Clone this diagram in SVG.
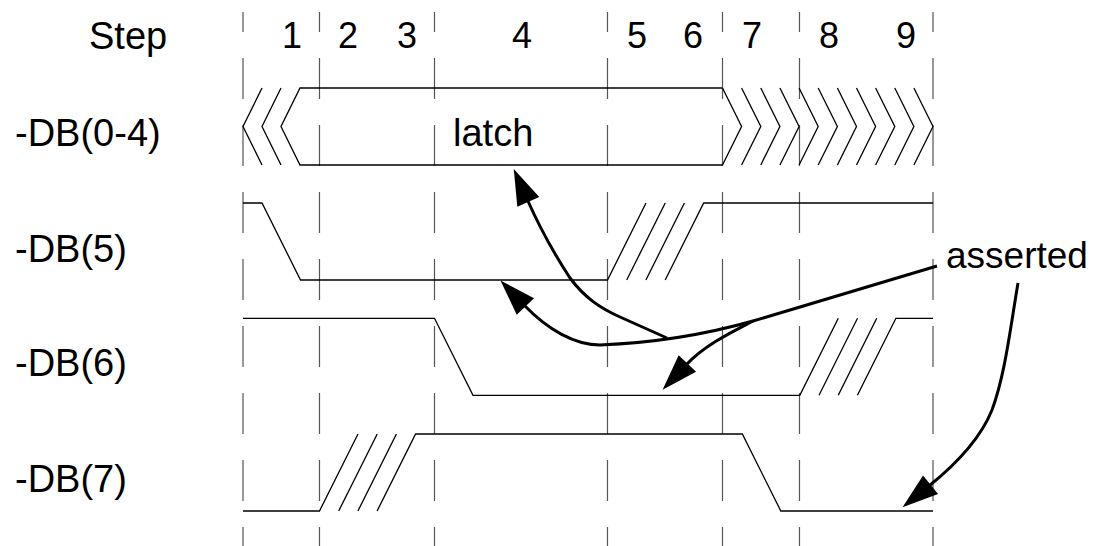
<svg xmlns="http://www.w3.org/2000/svg" width="1100" height="546" viewBox="0 0 1100 546">
<style>
  .grid { stroke: #555; stroke-width: 1.2; stroke-dasharray: 41 26; stroke-dashoffset: 21; fill: none; }
  .sig { stroke: #000; stroke-width: 1.3; fill: none; stroke-linejoin: miter; }
  .arrow { stroke: #000; stroke-width: 3; fill: none; stroke-linecap: butt; }
  text { font-family: "Liberation Sans", Arial, Helvetica, sans-serif; fill: #000; }
  .lbl { font-size: 38px; }
  .step { font-size: 36px; text-anchor: middle; }
  .note { font-size: 37px; }
</style>
<defs>
  <marker id="head" markerUnits="userSpaceOnUse" markerWidth="40" markerHeight="30" viewBox="-2 -13 40 26" refX="2" refY="0" orient="auto">
    <path d="M0,-12 L36,0 L0,12 Z" fill="#000"/>
  </marker>
</defs>
<rect width="1100" height="546" fill="#fff"/>

<g id="grid">
  <line class="grid" x1="243" y1="12" x2="243" y2="546"/>
  <line class="grid" x1="319.5" y1="12" x2="319.5" y2="546"/>
  <line class="grid" x1="434.5" y1="12" x2="434.5" y2="546"/>
  <line class="grid" x1="607.5" y1="12" x2="607.5" y2="546"/>
  <line class="grid" x1="722.5" y1="12" x2="722.5" y2="546"/>
  <line class="grid" x1="799.5" y1="12" x2="799.5" y2="546"/>
  <line class="grid" x1="933" y1="12" x2="933" y2="546"/>
</g>

<g id="step-row">
  <text class="lbl" x="89" y="49">Step</text>
  <text class="step" x="292" y="48">1</text>
  <text class="step" x="348" y="48">2</text>
  <text class="step" x="407" y="48">3</text>
  <text class="step" x="522" y="48">4</text>
  <text class="step" x="637" y="48">5</text>
  <text class="step" x="693" y="48">6</text>
  <text class="step" x="752" y="48">7</text>
  <text class="step" x="829" y="48">8</text>
  <text class="step" x="906" y="48">9</text>
</g>

<g id="signal-db04">
  <text class="lbl" x="15" y="146">-DB(0-4)</text>
  <polyline class="sig" points="262,88 243,126.5 262,165"/>
  <polyline class="sig" points="281,88 262,126.5 281,165"/>
  <polyline class="sig" points="722.5,88 300,88 281,126.5 300,165 722.5,165"/>
  <polyline class="sig" points="722.5,88 741.6,126.5 722.5,165"/>
  <polyline class="sig" points="741.6,88 760.8,126.5 741.6,165"/>
  <polyline class="sig" points="760.8,88 779.9,126.5 760.8,165"/>
  <polyline class="sig" points="779.9,88 799.1,126.5 779.9,165"/>
  <polyline class="sig" points="799.1,88 818.2,126.5 799.1,165"/>
  <polyline class="sig" points="818.2,88 837.4,126.5 818.2,165"/>
  <polyline class="sig" points="837.4,88 856.5,126.5 837.4,165"/>
  <polyline class="sig" points="856.5,88 875.6,126.5 856.5,165"/>
  <polyline class="sig" points="875.6,88 894.8,126.5 875.6,165"/>
  <polyline class="sig" points="894.8,88 913.9,126.5 894.8,165"/>
  <polyline class="sig" points="913.9,88 933,126.5 913.9,165"/>
</g>

<g id="signal-db5">
  <text class="lbl" x="15" y="262">-DB(5)</text>
  <polyline class="sig" points="243,203 262,203 300.5,280 607.5,280 646,203"/>
  <line class="sig" x1="626.7" y1="280" x2="665.2" y2="203"/>
  <line class="sig" x1="645.9" y1="280" x2="684.4" y2="203"/>
  <polyline class="sig" points="665.2,280 703.7,203 933,203"/>
</g>

<g id="signal-db6">
  <text class="lbl" x="15" y="376">-DB(6)</text>
  <polyline class="sig" points="243,318.3 434.5,318.3 473,395.3 799.8,395.3 838.3,318.3"/>
  <line class="sig" x1="819" y1="395.3" x2="857.5" y2="318.3"/>
  <line class="sig" x1="838.2" y1="395.3" x2="876.7" y2="318.3"/>
  <polyline class="sig" points="857.4,395.3 895.9,318.3 933,318.3"/>
</g>

<g id="signal-db7">
  <text class="lbl" x="15" y="492">-DB(7)</text>
  <polyline class="sig" points="243,511 319.5,511 358,434"/>
  <line class="sig" x1="338.7" y1="511" x2="377.2" y2="434"/>
  <line class="sig" x1="357.9" y1="511" x2="396.4" y2="434"/>
  <polyline class="sig" points="377.1,511 415.6,434 742.3,434 780.8,511 933,511"/>
</g>

<g id="latch">
  <text class="lbl" x="453" y="146">latch</text>
</g>

<g id="asserted">
  <text class="note" x="946" y="268">asserted</text>
</g>

<g id="connectors">
  <path class="arrow" marker-end="url(#head)" d="M937,266 L753,321 C700,336 650,343 600,345 C575,345 548,330 524,305"/>
  <path class="arrow" marker-end="url(#head)" d="M667,338 L620,317 C600,308 585,298 570,278 C555,255 539,226 527.5,200"/>
  <path class="arrow" marker-end="url(#head)" d="M753,321 C730,333 705,345 686,365"/>
  <path class="arrow" marker-end="url(#head)" d="M1018,283 C1010,330 1005,375 992,410 C980,440 955,465 929,486"/>
</g>
</svg>
